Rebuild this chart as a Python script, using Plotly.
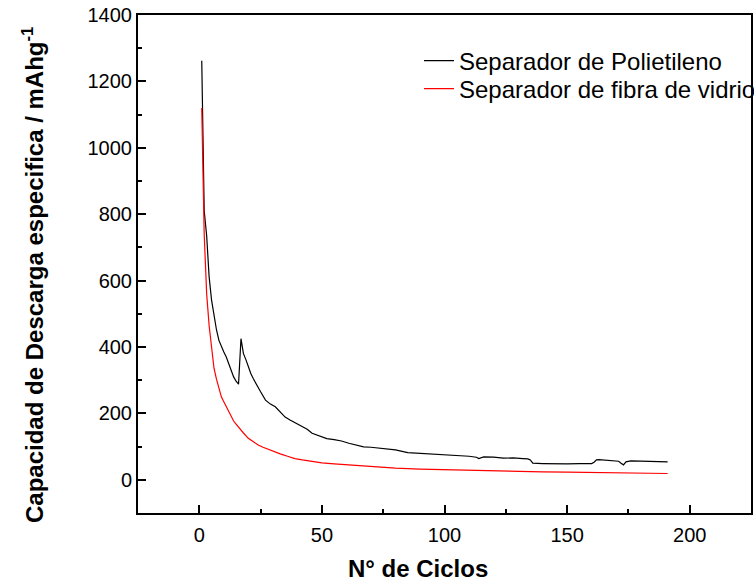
import plotly.graph_objects as go

# Separador de Polietileno (black)
pe_x = [1, 2, 3, 4, 5, 6, 7, 8, 9, 10, 11, 12, 13, 14, 15, 16, 17, 18, 19, 20, 21, 22, 23,
        25, 27, 29, 31, 33, 35, 37, 40, 42, 44, 46, 48, 50, 52, 55, 58, 61, 64, 67, 70,
        75, 80, 85, 90, 95, 100, 105, 110, 113, 114, 116, 118, 120, 124, 128, 132, 134,
        135, 136, 140, 145, 150, 155, 160, 161, 162, 163, 166, 170, 171, 172, 173, 174,
        176, 180, 185, 191]
pe_y = [1262, 810, 735, 612, 541, 490, 452, 420, 400, 385, 370, 348, 330, 310, 297, 288, 425,
        380, 362, 340, 320, 305, 290, 265, 240, 228, 220, 205, 189, 180, 168, 162, 152, 140,
        135, 130, 124, 121, 117, 110, 104, 99, 98, 94, 90, 82, 80, 79, 77, 74, 71, 68, 64,
        69, 69, 68, 65, 66, 64, 63, 60, 50, 49, 48, 48, 49, 49, 53, 60, 61, 59, 57, 56, 50,
        45, 54, 57, 56, 55, 54]

# Separador de fibra de vidrio (red)
gf_x = [1, 2, 3, 4, 5, 6, 7, 8, 9, 10, 11, 12, 13, 14, 15, 16, 17, 18, 20, 22, 24, 26, 28,
        30, 33, 36, 39, 42, 45, 50, 55, 60, 70, 80, 90, 100, 110, 120, 130, 140, 150, 160,
        170, 180, 191]
gf_y = [1120, 740, 560, 465, 400, 336, 303, 273, 250, 235, 220, 203, 190, 177, 168, 158, 148,
        141, 125, 115, 105, 98, 92, 85, 78, 71, 64, 60, 56, 51, 48, 45, 40, 35, 32, 30, 28,
        26, 25, 24, 23, 22, 21, 20, 19]

x_ticks = [0, 50, 100, 150, 200]
y_ticks = [0, 200, 400, 600, 800, 1000, 1200, 1400]

FONT = "Arial, Liberation Sans, sans-serif"

fig = go.Figure()
fig.add_trace(go.Scatter(x=pe_x, y=pe_y, mode="lines", name="Separador de Polietileno",
                         line=dict(color="black", width=1.2), legend="legend"))
fig.add_trace(go.Scatter(x=gf_x, y=gf_y, mode="lines", name="Separador de fibra de vidrio",
                         line=dict(color="red", width=1.2), legend="legend2"))

axis_common = dict(showgrid=False, zeroline=False, showline=True, mirror=True,
                   linecolor="black", linewidth=2, ticks="inside", ticklen=8,
                   tickwidth=1.5, tickcolor="black",
                   tickfont=dict(family=FONT, size=20, color="black"))

fig.update_xaxes(range=[-25, 225], tickvals=x_ticks,
                 minor=dict(dtick=25, tick0=0, ticks="inside", ticklen=4, tickwidth=1.5,
                            tickcolor="black"),
                 ticklabelstandoff=3, **axis_common)
fig.update_yaxes(range=[-100, 1400], tickvals=y_ticks,
                 minor=dict(dtick=100, tick0=0, ticks="inside", ticklen=4, tickwidth=1.5,
                            tickcolor="black"),
                 **axis_common)

fig.add_annotation(text="<b>N° de Ciclos</b>", xref="paper", yref="paper",
                   x=(418 - 138) / 613, y=-(568 - 513) / 498, xanchor="center", yanchor="middle",
                   showarrow=False, font=dict(family=FONT, size=24, color="black"))
fig.add_annotation(text="<b>Capacidad de Descarga especifica / mAhg<sup>-1</sup></b>",
                   xref="paper", yref="paper", textangle=-90,
                   x=(33 - 138) / 613, y=(513 - 275) / 498, xanchor="center", yanchor="middle",
                   showarrow=False, font=dict(family=FONT, size=24, color="black"))

leg_common = dict(xanchor="left", yanchor="middle", bgcolor="rgba(0,0,0,0)",
                  font=dict(family=FONT, size=24, color="black"), borderwidth=0)

fig.update_layout(
    width=754, height=583,
    margin=dict(l=138, r=3, t=15, b=70, autoexpand=False),
    paper_bgcolor="white", plot_bgcolor="white",
    font=dict(family=FONT, color="black"),
    showlegend=True,
    legend=dict(x=(419 - 138) / 613, y=(513 - 61) / 498, **leg_common),
    legend2=dict(x=(419 - 138) / 613, y=(513 - 89) / 498, **leg_common),
)

fig.write_html("out.html")
